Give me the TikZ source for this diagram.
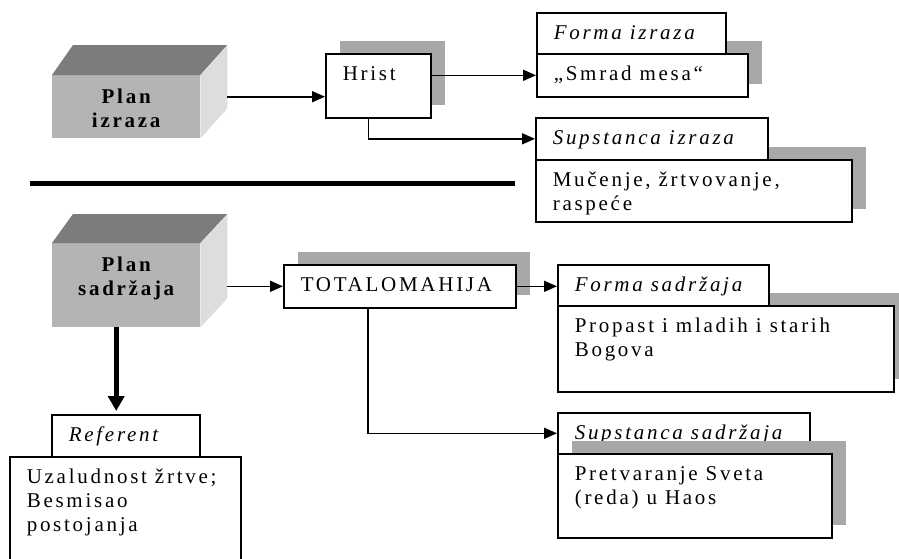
\documentclass[tikz,border=0pt]{standalone}
\usepackage{fontspec}
\setmainfont{Liberation Serif}[LetterSpace=13]
\usetikzlibrary{arrows.meta,shadows}
\definecolor{shadowgray}{HTML}{A8A8A8}
\definecolor{cubefront}{HTML}{B4B4B4}
\definecolor{cubetop}{HTML}{7C7C7C}
\definecolor{cubeside}{HTML}{DDDDDD}
\newcommand{\diagfont}{\fontsize{21}{24}\selectfont}
\newcommand{\lcell}[3]{\parbox[t][#2pt][t]{#1pt}{\raggedright\rule{0pt}{27pt}#3}}
\newcommand{\ccell}[3]{\parbox[t][#2pt][t]{#1pt}{\centering\rule{0pt}{28pt}#3}}
\tikzstyle{plainbox} = [draw=black, fill=white, line width=1.6pt,
    rectangle, inner xsep=17pt, inner ysep=0pt, anchor=north west, font=\diagfont]
\tikzstyle{shadowbox} = [plainbox, drop shadow={shadow xshift=14pt,
    shadow yshift=13pt, fill=shadowgray, opacity=1}]
\tikzstyle{labelbox} = [plainbox, font=\diagfont\itshape]
\tikzstyle{cube} = [fill=cubefront, rectangle, inner sep=0pt, anchor=north west,
    font=\diagfont\bfseries]
\tikzstyle{flow} = [line width=1.6pt, -{Triangle[length=13pt,width=11pt]}]
\tikzstyle{bigflow} = [line width=5pt, -{Triangle[length=15pt,width=16pt]}, shorten >=3pt]

\begin{document}
\begin{tikzpicture}[x=1pt,y=-1pt]
    \useasboundingbox (0,0) rectangle (899,558);
    \node[cube] (pi) at (52,75) {\ccell{148}{63}{Plan\\izraza}};
    \fill[cubetop] (pi.north west) -- ++(21,-30) -- ([shift={(27,-30)}]pi.north east) -- (pi.north east) -- cycle;
    \fill[cubeside] (pi.north east) -- ++(27,-30) -- ([shift={(27,-30)}]pi.south east) -- (pi.south east) -- cycle;
    \node[shadowbox] (hrist) at (325,53) {\lcell{71}{64}{Hrist}};
    \node[shadowbox] (smrad) at (536,53) {\lcell{177}{43}{„Smrad mesa“}};
    \node[labelbox] (fil) at (536,12) {\lcell{155}{41}{Forma izraza}};
    \node[shadowbox] (sic) at (535,159) {\lcell{282}{62}{Mučenje, žrtvovanje,\\raspeće}};
    \node[labelbox] (sil) at (535,117) {\lcell{198}{42}{Supstanca izraza}};

    \draw[line width=5pt] (30,183) -- (515,183);

    \node[cube] (ps) at (52,243) {\ccell{148}{84}{Plan\\sadržaja}};
    \fill[cubetop] (ps.north west) -- ++(21,-29) -- ([shift={(27,-29)}]ps.north east) -- (ps.north east) -- cycle;
    \fill[cubeside] (ps.north east) -- ++(27,-29) -- ([shift={(27,-29)}]ps.south east) -- (ps.south east) -- cycle;
    \node[shadowbox] (tot) at (283,264) {\lcell{198}{43}{TOTALOMAHIJA}};
    \node[shadowbox] (fsc) at (557,305) {\lcell{302}{86}{Propast i mladih i starih\\Bogova}};
    \node[labelbox] (fsl) at (557,264) {\lcell{177}{41}{Forma sadržaja}};
    \node[labelbox] (ssl) at (557,412) {\lcell{218}{41}{Supstanca sadržaja}};
    \node[shadowbox] (ssc) at (557,453) {\lcell{240}{84}{Pretvaranje Sveta\\(reda) u Haos}};
    \node[labelbox] (refl) at (51,414) {\lcell{114}{42}{Referent}};
    \node[plainbox] (refc) at (9,456) {\lcell{197}{120}{Uzaludnost žrtve;\\Besmisao\\postojanja}};

    \coordinate (pi-out) at ([shift={(27,-10)}]pi.east);
    \draw[flow] (pi-out) -- (pi-out -| hrist.west);
    \draw[flow] (hrist.east |- smrad.west) -- (smrad.west);
    \draw[flow] ([xshift=-10pt]hrist.south) |- (sil.west);
    \draw[flow] ([xshift=27pt]ps.east |- tot.west) -- (tot.west);
    \draw[flow] (tot.east) -- (tot.east -| fsl.west);
    \draw[flow] ([xshift=-32pt]tot.south) |- (ssl.west);
    \draw[bigflow] ([xshift=-10pt]ps.south) -- ([xshift=-10pt]ps.south |- refl.north);
\end{tikzpicture}
\end{document}
